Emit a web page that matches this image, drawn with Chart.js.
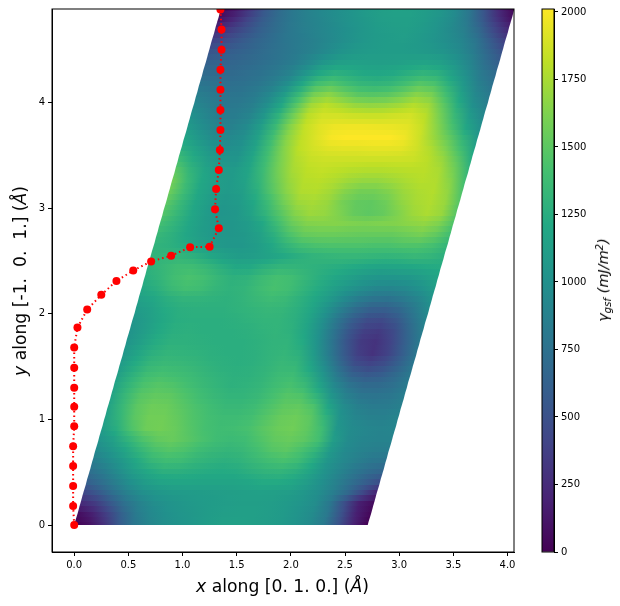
<!DOCTYPE html>
<html>
<head>
<meta charset="utf-8">
<script src="https://cdn.jsdelivr.net/npm/chart.js@4"></script>
<style>
  body { margin: 0; background: #fff; }
  #wrap { position: relative; width: 620px; height: 606px; overflow: hidden; font-family: "DejaVu Sans"; color: #000; }
  canvas { position: absolute; top: 0; }
  .lbl { position: absolute; white-space: pre; transform: translate(-50%, -50%); }
  .rot { transform: translate(-50%, -50%) rotate(-90deg); }
  sub { font-size: 70%; vertical-align: -0.25em; line-height: 0; }
  sup { font-size: 70%; vertical-align: 0.45em; line-height: 0; }
</style>
</head>
<body>
<div id="wrap">
  <canvas id="main" width="620" height="606" style="left:0"></canvas>
  <canvas id="bar" width="90" height="606" style="left:530px"></canvas>
  <div class="lbl" style="left:282.5px;top:586px;font-size:17.2px"><i>x</i> along [0. 1. 0.] (<i>Å</i>)</div>
  <div class="lbl rot" style="left:20px;top:280.5px;font-size:17.2px"><i>y</i> along [-1.  0.  1.] (<i>Å</i>)</div>
  <div class="lbl rot" style="left:603px;top:280px;font-size:14.5px"><i>γ<sub>gsf</sub> (mJ/m<sup>2</sup>)</i></div>
</div>
<script>
const xTickValues = [0, 0.5, 1, 1.5, 2, 2.5, 3, 3.5, 4];
const yTickValues = [0, 1, 2, 3, 4];
const barTickValues = [0, 250, 500, 750, 1000, 1250, 1500, 1750, 2000];

// minimum energy path
const pathX = [0,-0.01,-0.01,-0.01,-0.01,0,0,0,0,0,0.03,0.12,0.25,0.39,0.545,0.71,0.895,1.07,1.25,1.335,1.30,1.31,1.335,1.345,1.35,1.35,1.35,1.35,1.36,1.36,1.35];
const pathY = [0,0.18,0.37,0.56,0.745,0.935,1.12,1.30,1.49,1.68,1.87,2.04,2.18,2.31,2.41,2.495,2.55,2.63,2.635,2.81,2.99,3.18,3.36,3.55,3.74,3.93,4.12,4.31,4.50,4.69,4.88];

// cell edges of the parallelogram
const cellA = 2.71;     // width along x
const cellBx = 1.355;   // shift of the top edge
const cellBy = 4.89;    // height along y
const vMax = 2011;

// gamma surface values, rows from y=0 upwards, 21 values across each row
const gsfRows = [
[0,90,280,560,780,900,980,1020,1060,1100,1130,1140,1130,1110,1080,1030,960,820,520,200,0],
[60,170,370,620,820,930,1000,1040,1070,1100,1120,1130,1130,1110,1080,1030,960,810,500,180,30],
[230,340,540,740,880,970,1020,1060,1080,1100,1110,1120,1120,1110,1080,1040,970,800,480,170,60],
[420,560,730,880,990,1050,1080,1090,1100,1110,1120,1130,1140,1130,1110,1060,980,850,680,450,200],
[600,720,860,1000,1100,1160,1180,1180,1170,1170,1170,1190,1220,1220,1190,1110,1000,880,740,600,480],
[730,840,970,1110,1210,1270,1270,1250,1230,1220,1230,1270,1300,1310,1270,1170,1020,910,800,710,650],
[840,950,1070,1210,1330,1380,1370,1320,1290,1270,1290,1340,1390,1420,1370,1240,1050,940,860,800,770],
[950,1050,1180,1320,1430,1470,1440,1380,1340,1320,1340,1400,1470,1500,1430,1320,1080,950,890,860,850],
[1030,1140,1300,1440,1520,1540,1490,1430,1380,1360,1380,1450,1520,1540,1500,1400,1110,960,910,890,890],
[1100,1250,1440,1560,1580,1540,1470,1410,1380,1390,1420,1490,1550,1570,1510,1380,1060,960,920,900,910],
[1130,1310,1490,1570,1570,1520,1450,1400,1370,1370,1400,1470,1540,1560,1500,1300,1020,920,880,870,900],
[1150,1340,1500,1560,1550,1490,1430,1380,1340,1340,1370,1440,1510,1520,1440,1180,970,870,830,830,870],
[1160,1340,1480,1520,1510,1450,1390,1340,1310,1310,1340,1410,1470,1450,1300,1050,880,790,770,790,850],
[1150,1310,1430,1470,1450,1400,1350,1310,1280,1290,1320,1380,1420,1350,1160,930,770,690,690,740,830],
[1120,1270,1380,1410,1390,1360,1320,1290,1270,1280,1310,1360,1370,1260,1050,810,630,560,590,690,810],
[1090,1220,1320,1350,1340,1320,1290,1270,1260,1270,1300,1340,1320,1160,930,680,470,400,470,620,800],
[1060,1170,1270,1310,1300,1290,1270,1260,1260,1270,1300,1320,1270,1080,840,580,370,290,390,590,800],
[1030,1130,1230,1280,1280,1270,1260,1260,1260,1280,1300,1300,1220,1020,780,530,340,290,400,610,820],
[1020,1110,1210,1260,1270,1260,1260,1260,1270,1290,1310,1280,1180,990,760,530,370,340,450,660,860],
[1040,1110,1200,1250,1260,1260,1260,1270,1290,1310,1310,1270,1170,990,780,590,460,440,540,730,910],
[1080,1140,1220,1260,1270,1270,1270,1290,1310,1330,1320,1270,1180,1020,850,700,600,590,670,810,970],
[1140,1190,1260,1300,1300,1290,1280,1300,1340,1370,1350,1280,1200,1080,950,840,770,760,810,900,1030],
[1200,1260,1350,1400,1380,1320,1290,1310,1370,1420,1390,1310,1230,1140,1050,970,920,910,940,1010,1110],
[1250,1310,1390,1430,1400,1330,1280,1290,1360,1410,1390,1320,1250,1190,1130,1070,1040,1040,1060,1110,1180],
[1280,1330,1380,1380,1330,1260,1200,1210,1270,1310,1310,1290,1270,1250,1220,1190,1170,1180,1200,1220,1230],
[1300,1310,1310,1270,1200,1140,1100,1110,1150,1210,1260,1300,1320,1330,1330,1320,1310,1320,1340,1320,1270],
[1300,1280,1230,1150,1090,1060,1060,1100,1190,1300,1390,1430,1440,1440,1440,1430,1430,1450,1450,1410,1320],
[1340,1280,1190,1110,1060,1050,1070,1140,1270,1430,1530,1550,1550,1540,1530,1530,1530,1560,1590,1520,1390],
[1400,1300,1190,1100,1050,1050,1090,1200,1370,1540,1630,1640,1640,1620,1610,1620,1630,1660,1680,1620,1450],
[1460,1330,1190,1090,1040,1060,1150,1300,1480,1640,1710,1690,1620,1530,1500,1530,1620,1710,1760,1700,1480],
[1500,1340,1190,1100,1060,1090,1200,1370,1570,1710,1740,1700,1590,1520,1510,1560,1670,1740,1770,1700,1470],
[1560,1370,1200,1110,1080,1120,1260,1470,1650,1770,1780,1730,1640,1580,1580,1630,1710,1760,1780,1680,1430],
[1580,1360,1200,1110,1080,1150,1320,1530,1700,1790,1800,1770,1720,1690,1690,1720,1760,1790,1770,1640,1370],
[1500,1310,1170,1090,1080,1170,1360,1580,1740,1810,1830,1810,1790,1780,1780,1790,1800,1800,1750,1580,1310],
[1380,1230,1110,1040,1040,1170,1380,1610,1770,1840,1860,1860,1860,1860,1860,1860,1850,1800,1700,1500,1230],
[1260,1150,1040,980,1010,1150,1390,1640,1810,1880,1920,1930,1930,1940,1940,1930,1870,1770,1620,1400,1150],
[1180,1060,960,930,980,1140,1380,1650,1820,1910,1990,2010,2011,2011,2010,1970,1860,1700,1530,1300,1070],
[1090,980,890,880,950,1110,1350,1640,1830,1920,1960,1970,1970,1960,1950,1930,1840,1650,1430,1180,990],
[1010,920,840,840,900,1050,1290,1570,1800,1880,1880,1860,1850,1850,1870,1880,1800,1590,1340,1090,920],
[930,860,800,810,860,990,1200,1480,1730,1810,1760,1700,1680,1690,1730,1790,1730,1510,1250,1000,860],
[860,810,770,780,830,930,1100,1350,1590,1660,1570,1490,1470,1490,1560,1650,1600,1390,1150,930,810],
[780,750,730,750,790,860,980,1190,1390,1450,1380,1320,1300,1320,1390,1470,1430,1260,1060,870,750],
[700,690,690,720,760,810,890,1040,1200,1270,1240,1200,1190,1210,1260,1300,1270,1140,980,810,690],
[620,640,660,690,730,780,840,930,1050,1120,1140,1130,1120,1130,1150,1160,1130,1040,910,740,600],
[520,570,620,670,720,770,820,880,950,1020,1070,1090,1100,1100,1090,1070,1030,960,840,670,500],
[390,470,560,640,710,780,830,880,930,990,1040,1080,1100,1110,1080,1040,980,910,780,570,370],
[240,350,480,600,700,790,850,900,950,1000,1050,1090,1110,1120,1090,1040,960,860,680,440,230],
[100,220,400,570,700,800,870,920,970,1020,1070,1110,1130,1130,1100,1040,960,810,570,310,100],
[10,120,320,540,700,810,890,940,990,1040,1090,1130,1150,1140,1110,1050,950,780,500,210,10]
];

const viridis = ['#440154','#482475','#414487','#355f8d','#2a788e','#21918c','#22a884','#44bf70','#7ad151','#bddf26','#fde725'];
const tickFont = { family: 'DejaVu Sans', size: 10 };

function hexRgb(h) {
  return [1, 3, 5].map(i => parseInt(h.substr(i, 2), 16));
}
function colorOf(v) {
  let t = Math.min(1, Math.max(0, v / vMax)) * (viridis.length - 1);
  let i = Math.min(viridis.length - 2, Math.floor(t));
  let a = hexRgb(viridis[i]), b = hexRgb(viridis[i + 1]);
  let f = t - i;
  return `rgb(${a.map((c, k) => Math.round(c + (b[k] - c) * f)).join(',')})`;
}

// paints the gamma surface through the x and y scales. Every read row gets a
// band, with a half height shading band between neighbours (display only)
const surfacePlugin = {
  id: 'surface',
  beforeDatasetsDraw(chart) {
    const { ctx, chartArea, scales } = chart;
    const slope = cellBx / cellBy;
    const dy = cellBy / (gsfRows.length - 1);

    function band(row, y) {
      const y0 = Math.max(0, y - dy / 4), y1 = Math.min(cellBy, y + dy / 4);
      const pxBottom = Math.round(scales.y.getPixelForValue(y0));
      const pxTop = Math.round(scales.y.getPixelForValue(y1));
      const g = ctx.createLinearGradient(scales.x.getPixelForValue(slope * y), 0, scales.x.getPixelForValue(slope * y + cellA), 0);
      row.forEach((v, i) => g.addColorStop(i / (row.length - 1), colorOf(v)));
      ctx.fillStyle = g;
      ctx.beginPath();
      ctx.moveTo(scales.x.getPixelForValue(slope * y0), pxBottom);
      ctx.lineTo(scales.x.getPixelForValue(slope * y0 + cellA), pxBottom);
      ctx.lineTo(scales.x.getPixelForValue(slope * y1 + cellA), pxTop);
      ctx.lineTo(scales.x.getPixelForValue(slope * y1), pxTop);
      ctx.closePath();
      ctx.fill();
    }

    ctx.save();
    ctx.beginPath();
    ctx.rect(chartArea.left, chartArea.top, chartArea.right - chartArea.left, chartArea.bottom - chartArea.top);
    ctx.clip();
    gsfRows.forEach((row, j) => {
      band(row, j * dy);
      if (j < gsfRows.length - 1) {
        band(row.map((v, i) => (v + gsfRows[j + 1][i]) / 2), (j + 0.5) * dy);
      }
    });
    ctx.restore();
  }
};

// top and right spines
const framePlugin = {
  id: 'frame',
  afterDraw(chart) {
    const { ctx, chartArea: a } = chart;
    ctx.save();
    ctx.strokeStyle = '#000';
    ctx.lineWidth = 1;
    ctx.strokeRect(a.left, a.top, a.right - a.left, a.bottom - a.top);
    ctx.restore();
  }
};

new Chart(document.getElementById('main'), {
  type: 'scatter',
  data: {
    datasets: [{
      data: pathX.map((x, i) => ({ x: x, y: pathY[i] })),
      showLine: true,
      borderColor: '#ff0000',
      borderWidth: 2,
      borderDash: [1.5, 3],
      backgroundColor: '#ff0000',
      pointRadius: 4,
      pointBorderWidth: 0
    }]
  },
  options: {
    responsive: false,
    animation: false,
    layout: { padding: { top: 8, right: 106, left: 0, bottom: 0 } },
    plugins: { legend: { display: false }, tooltip: { enabled: false } },
    scales: {
      x: {
        type: 'linear', min: -0.205, max: 4.06,
        grid: { drawOnChartArea: false, tickLength: 4, color: '#000' },
        border: { color: '#000' },
        afterBuildTicks: s => { s.ticks = xTickValues.map(v => ({ value: v })); },
        afterFit: s => { s.height = 54; },
        ticks: { font: tickFont, color: '#000', padding: 3, maxRotation: 0, autoSkip: false, callback: v => v.toFixed(1) }
      },
      y: {
        type: 'linear', min: -0.255, max: 4.885,
        grid: { drawOnChartArea: false, tickLength: 4, color: '#000' },
        border: { color: '#000' },
        afterBuildTicks: s => { s.ticks = yTickValues.map(v => ({ value: v })); },
        afterFit: s => { s.width = 52; },
        ticks: { font: tickFont, color: '#000', padding: 3, autoSkip: false, callback: v => String(v) }
      }
    }
  },
  plugins: [surfacePlugin, framePlugin]
});

const barCanvas = document.getElementById('bar');
const barGrad = barCanvas.getContext('2d').createLinearGradient(0, 552, 0, 8);
viridis.forEach((c, i) => barGrad.addColorStop(i / (viridis.length - 1), c));

new Chart(barCanvas, {
  type: 'bar',
  data: {
    labels: ['gsf'],
    datasets: [{ data: [[0, vMax]], backgroundColor: barGrad, barPercentage: 1, categoryPercentage: 1 }]
  },
  options: {
    responsive: false,
    animation: false,
    layout: { padding: { top: 8, left: 12, right: 0, bottom: 54 } },
    plugins: { legend: { display: false }, tooltip: { enabled: false } },
    scales: {
      x: { display: false },
      y: {
        position: 'right', type: 'linear', min: 0, max: vMax,
        grid: { drawOnChartArea: false, tickLength: 4, color: '#000' },
        border: { color: '#000' },
        afterBuildTicks: s => { s.ticks = barTickValues.map(v => ({ value: v })); },
        afterFit: s => { s.width = 66; },
        ticks: { font: tickFont, color: '#000', padding: 3, autoSkip: false, callback: v => String(v) }
      }
    }
  },
  plugins: [framePlugin]
});
</script>
</body>
</html>
